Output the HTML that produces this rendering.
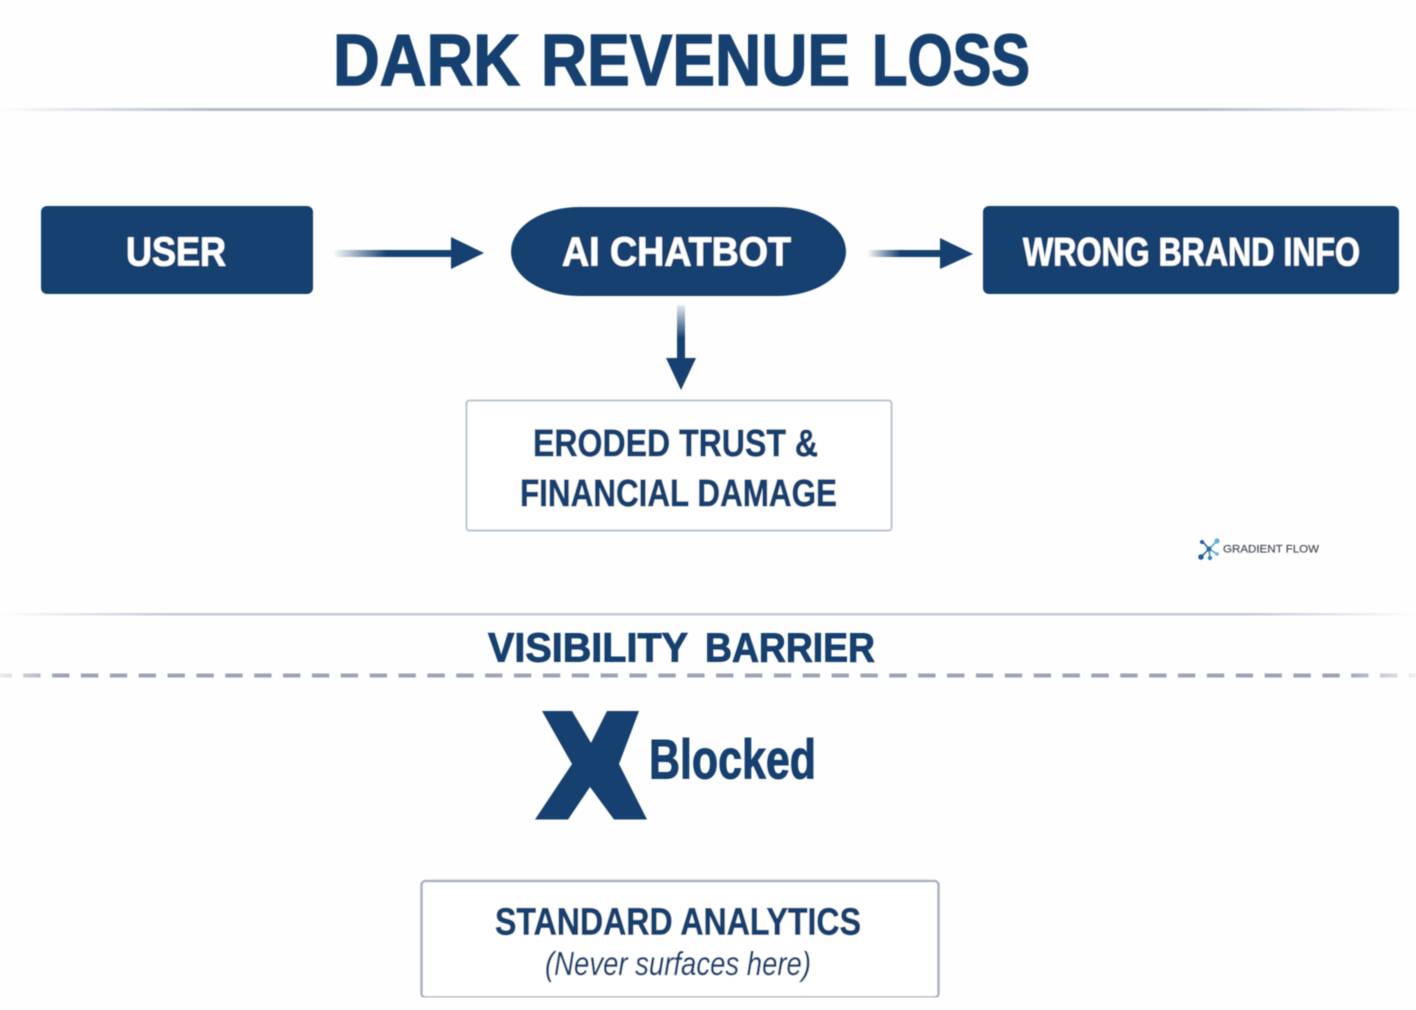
<!DOCTYPE html>
<html><head><meta charset="utf-8">
<style>html,body{margin:0;padding:0;background:#fefefe;width:1416px;height:1010px;overflow:hidden}svg{display:block}
text{font-family:"Liberation Sans",sans-serif;font-weight:700;fill:#17406f;stroke:#17406f;stroke-width:.7px}
text.w{fill:#fff;stroke:#fff;stroke-width:.6px}
text.n{stroke-width:.2px;font-weight:400}</style></head>
<body>
<svg width="1416" height="1010" viewBox="0 0 1416 1010" xmlns="http://www.w3.org/2000/svg">
<defs>
<linearGradient id="rule" x1="0" x2="1" y1="0" y2="0"><stop offset="0" stop-color="#aab4c6" stop-opacity="0"/><stop offset=".15" stop-color="#b4bccb"/><stop offset=".85" stop-color="#b4bccb"/><stop offset="1" stop-color="#aab4c6" stop-opacity="0"/></linearGradient>
<linearGradient id="rule2" x1="0" x2="1" y1="0" y2="0"><stop offset="0" stop-color="#c0c6d6" stop-opacity="0"/><stop offset=".12" stop-color="#c4c9d8"/><stop offset=".88" stop-color="#c4c9d8"/><stop offset="1" stop-color="#c0c6d6" stop-opacity="0"/></linearGradient>
<linearGradient id="dash" gradientUnits="userSpaceOnUse" x1="0" x2="1416" y1="0" y2="0"><stop offset="0" stop-color="#9ba4b6" stop-opacity=".2"/><stop offset=".04" stop-color="#9ba4b6"/><stop offset=".95" stop-color="#9ba4b6"/><stop offset="1" stop-color="#9ba4b6" stop-opacity=".15"/></linearGradient>
<linearGradient id="ah" x1="0" x2="1" y1="0" y2="0"><stop offset="0" stop-color="#17406f" stop-opacity="0"/><stop offset=".45" stop-color="#17406f"/><stop offset="1" stop-color="#17406f"/></linearGradient>
<linearGradient id="av" x1="0" x2="0" y1="0" y2="1"><stop offset="0" stop-color="#17406f" stop-opacity=".1"/><stop offset=".6" stop-color="#17406f"/><stop offset="1" stop-color="#17406f"/></linearGradient>
<filter id="soft" x="0" y="0" width="100%" height="100%"><feGaussianBlur stdDeviation=".45"/></filter>
</defs>
<rect width="1416" height="1010" fill="#fefefe"/>
<g filter="url(#soft)">
<text x="333" y="85" font-size="72" textLength="187" lengthAdjust="spacingAndGlyphs" style="stroke-width:1.4px">DARK</text>
<text x="541" y="85" font-size="72" textLength="309" lengthAdjust="spacingAndGlyphs" style="stroke-width:1.4px">REVENUE</text>
<text x="872" y="85" font-size="72" textLength="158" lengthAdjust="spacingAndGlyphs" style="stroke-width:1.4px">LOSS</text>
<rect x="0" y="108" width="1416" height="3" fill="url(#rule)"/>

<rect x="41" y="206" width="272" height="88" rx="6" fill="#17406f"/>
<text class="w" x="126" y="265.500" font-size="41" textLength="100" lengthAdjust="spacingAndGlyphs">USER</text>

<rect x="333" y="250" width="120" height="7" fill="url(#ah)"/>
<polygon points="451,237 484,253 451,269" fill="#17406f"/>

<rect x="511" y="207" width="335" height="89" rx="68" ry="44.5" fill="#17406f"/>
<text class="w" x="562" y="265.500" font-size="41" textLength="229" lengthAdjust="spacingAndGlyphs">AI CHATBOT</text>

<rect x="867" y="250" width="74" height="7" fill="url(#ah)"/>
<polygon points="940,238 973,254 940,269" fill="#17406f"/>

<rect x="983" y="206" width="416" height="88" rx="6" fill="#17406f"/>
<text class="w" x="1023" y="265.500" font-size="40" textLength="337" lengthAdjust="spacingAndGlyphs">WRONG BRAND INFO</text>

<rect x="677" y="305" width="8" height="55" fill="url(#av)"/>
<polygon points="666,358 696,358 681,390" fill="#17406f"/>

<rect x="466.500" y="400.500" width="425" height="130" rx="3" fill="#fff" stroke="#b9c2cf" stroke-width="2"/>
<text x="533" y="456" font-size="38" textLength="285" lengthAdjust="spacingAndGlyphs">ERODED TRUST &amp;</text>
<text x="520" y="506" font-size="38" textLength="317" lengthAdjust="spacingAndGlyphs">FINANCIAL DAMAGE</text>

<g>
<line x1="1209" y1="549" x2="1203" y2="542" stroke="#2a5c93" stroke-width="1.5"/>
<line x1="1209" y1="549" x2="1217" y2="541" stroke="#4a9ed0" stroke-width="1.5"/>
<line x1="1209" y1="549" x2="1202" y2="556" stroke="#2a5c93" stroke-width="1.5"/>
<line x1="1209" y1="549" x2="1210" y2="558" stroke="#3a86c0" stroke-width="1.5"/>
<line x1="1209" y1="549" x2="1217" y2="554" stroke="#4a9ed0" stroke-width="1.5"/>
<circle cx="1209" cy="549" r="2.5" fill="#2a6aa5"/>
<circle cx="1202" cy="542" r="2" fill="#2a5c93"/>
<circle cx="1217" cy="541" r="2.6" fill="#5bb0da"/>
<circle cx="1201" cy="557" r="2.8" fill="#2a5c93"/>
<circle cx="1210" cy="558" r="2.2" fill="#3a86c0"/>
<circle cx="1217" cy="554" r="1.8" fill="#5bb0da"/>
<text x="1223" y="552.500" font-size="11" textLength="96" lengthAdjust="spacingAndGlyphs" style="fill:#4a4f57;stroke:#4a4f57;stroke-width:.2px;font-weight:400">GRADIENT FLOW</text>
</g>

<rect x="0" y="613" width="1416" height="2.500" fill="url(#rule2)"/>
<text x="488" y="661.500" font-size="41" textLength="200" lengthAdjust="spacingAndGlyphs" style="stroke-width:.9px">VISIBILITY</text>
<text x="705" y="661.500" font-size="41" textLength="170" lengthAdjust="spacingAndGlyphs" style="stroke-width:.9px">BARRIER</text>
<rect x="0" y="673.500" width="1416" height="4" fill="#fefefe"/>
<line x1="-5.740" y1="675.500" x2="1416" y2="675.500" stroke="url(#dash)" stroke-width="4" stroke-dasharray="17.500 11.370"/>

<polygon points="542,711 572,711 591,743 607,711 639,711 619,764 647,819.500 614,819.500 590,787 568,819.500 535,819.500 572,764" fill="#17406f"/>
<text x="649" y="778.500" font-size="56" textLength="167" lengthAdjust="spacingAndGlyphs" style="stroke-width:1px">Blocked</text>

<rect x="421.500" y="881" width="517" height="116.500" rx="4" fill="#fff" stroke="#a9b2c1" stroke-width="2.500"/>
<text x="495" y="934.500" font-size="38" textLength="366" lengthAdjust="spacingAndGlyphs">STANDARD ANALYTICS</text>
<text class="n" x="545" y="975" font-size="33" textLength="266" lengthAdjust="spacingAndGlyphs" style="font-style:italic">(Never surfaces here)</text>
</g>
</svg>
</body></html>
